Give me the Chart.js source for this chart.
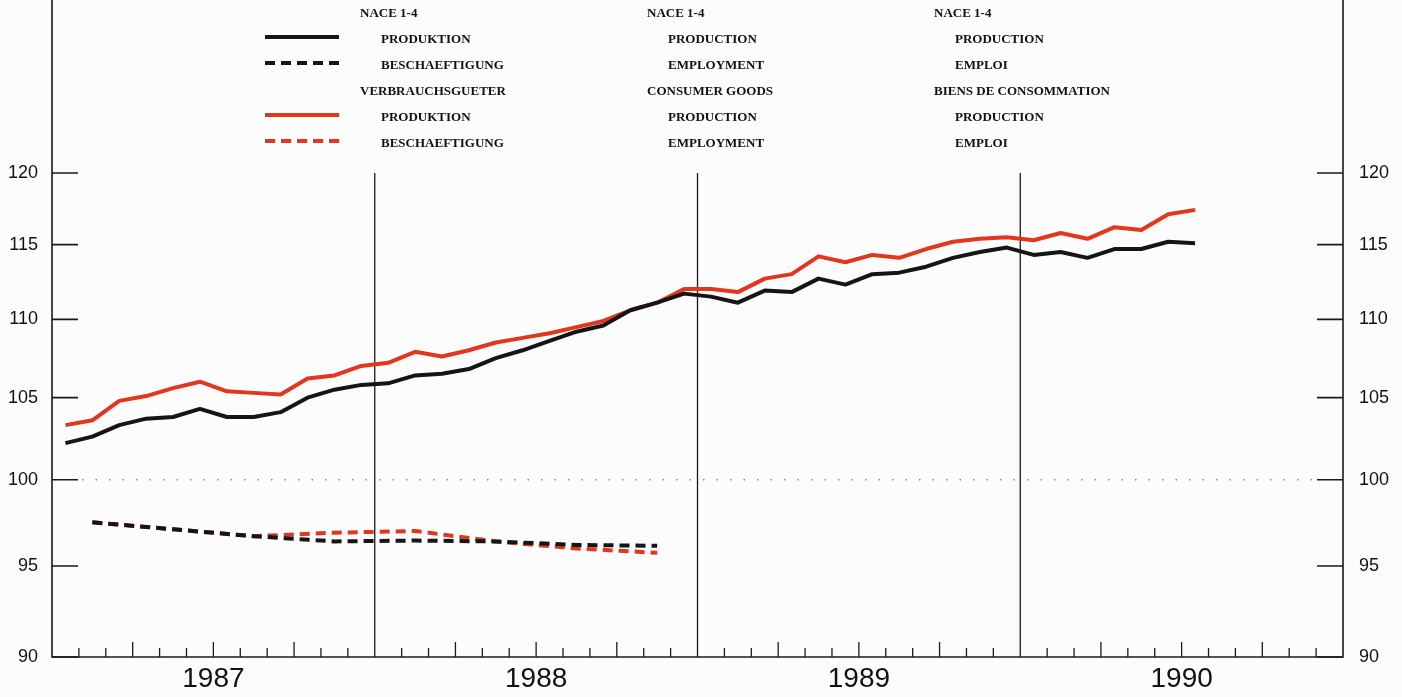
<!DOCTYPE html>
<html>
<head>
<meta charset="utf-8">
<script src="https://cdn.jsdelivr.net/npm/chart.js@4.4.0/dist/chart.umd.min.js"></script>
<style>
  html, body { margin: 0; padding: 0; background: #fcfcfc; }
  canvas { display: block; }
</style>
</head>
<body>
<canvas id="chart" width="1402" height="697"></canvas>
<script>
// years on the x axis, one block of 12 months each
const years = ['1987', '1988', '1989', '1990'];
const yTicks = [90, 95, 100, 105, 110, 115, 120];

// monthly index values, Jan 1987 - Jul 1990
const prodNace = [102.2, 102.6, 103.3, 103.7, 103.8, 104.3, 103.8, 103.8, 104.1, 105.0, 105.5, 105.8,
                  105.9, 106.4, 106.5, 106.8, 107.5, 108.0, 108.6, 109.2, 109.6, 110.6, 111.1, 111.7,
                  111.5, 111.1, 111.9, 111.8, 112.7, 112.3, 113.0, 113.1, 113.5, 114.1, 114.5, 114.8,
                  114.3, 114.5, 114.1, 114.7, 114.7, 115.2, 115.1];
const prodCons = [103.3, 103.6, 104.8, 105.1, 105.6, 106.0, 105.4, 105.3, 105.2, 106.2, 106.4, 107.0,
                  107.2, 107.9, 107.6, 108.0, 108.5, 108.8, 109.1, 109.5, 109.9, 110.6, 111.1, 112.0,
                  112.0, 111.8, 112.7, 113.0, 114.2, 113.8, 114.3, 114.1, 114.7, 115.2, 115.4, 115.5,
                  115.3, 115.8, 115.4, 116.2, 116.0, 117.1, 117.4];
// quarterly employment, Q1 1987 - Q4 1988
const emplNace = [97.5, 97.1, 96.7, 96.4, 96.45, 96.4, 96.2, 96.15];
const emplCons = [97.5, 97.1, 96.7, 96.9, 97.0, 96.4, 96.0, 95.75];

// legend text, german / english / french
const legendDe = ['NACE 1-4', 'PRODUKTION', 'BESCHAEFTIGUNG', 'VERBRAUCHSGUETER', 'PRODUKTION', 'BESCHAEFTIGUNG'];
const legendEn = ['NACE 1-4', 'PRODUCTION', 'EMPLOYMENT', 'CONSUMER GOODS', 'PRODUCTION', 'EMPLOYMENT'];
const legendFr = ['NACE 1-4', 'PRODUCTION', 'EMPLOI', 'BIENS DE CONSOMMATION', 'PRODUCTION', 'EMPLOI'];

const BLACK = '#151515';
const RED = '#e2361f';

const monthly = arr => arr.map((v, i) => ({ x: i + 0.5, y: v }));
const quarterly = arr => arr.map((v, i) => ({ x: i * 3 + 1.5, y: v }));

const lineStyle = { borderWidth: 4, pointRadius: 0, tension: 0, borderJoinStyle: 'round', fill: false };

const frame = {
  id: 'frame',
  beforeDatasetsDraw(chart) {
    const { ctx, chartArea: a, scales: { x, y } } = chart;
    ctx.save();
    ctx.strokeStyle = '#1a1a1a';

    // dotted 100 line
    const p100 = y.getPixelForValue(100);
    ctx.setLineDash([1.5, 12]);
    ctx.lineWidth = 1.5;
    ctx.strokeStyle = '#8a8a8a';
    ctx.beginPath();
    ctx.moveTo(a.left + 30, p100);
    ctx.lineTo(a.right - 30, p100);
    ctx.stroke();
    ctx.setLineDash([]);
    ctx.strokeStyle = '#1a1a1a';

    // axis frame
    ctx.lineWidth = 1.6;
    ctx.beginPath();
    ctx.moveTo(a.left, a.top);
    ctx.lineTo(a.left, a.bottom);
    ctx.lineTo(a.right, a.bottom);
    ctx.lineTo(a.right, a.top);
    ctx.stroke();

    // y ticks, inside on both sides
    yTicks.forEach(v => {
      const py = y.getPixelForValue(v);
      ctx.beginPath();
      ctx.moveTo(a.left, py); ctx.lineTo(a.left + 26, py);
      ctx.moveTo(a.right, py); ctx.lineTo(a.right - 26, py);
      ctx.stroke();
    });

    // month ticks, quarter ticks longer, year separators up to 120
    const top = y.getPixelForValue(120);
    ctx.lineWidth = 1.3;
    for (let m = 1; m < years.length * 12; m++) {
      const px = x.getPixelForValue(m);
      ctx.beginPath();
      if (m % 12 === 0) ctx.moveTo(px, top);
      else ctx.moveTo(px, a.bottom - (m % 3 === 0 ? 15 : 9));
      ctx.lineTo(px, a.bottom);
      ctx.stroke();
    }
    ctx.restore();
  },
  afterDraw(chart) {
    const { ctx } = chart;
    const ds = chart.data.datasets;
    const rows = [14, 40, 66, 92, 118, 144];
    const cols = [360, 647, 934];
    const samples = { 1: ds[0], 2: ds[1], 4: ds[2], 5: ds[3] };
    ctx.save();
    ctx.font = 'bold 13px "Liberation Serif", serif';
    ctx.fillStyle = '#111';
    ctx.textBaseline = 'middle';
    [legendDe, legendEn, legendFr].forEach((texts, c) => {
      texts.forEach((t, r) => {
        const indent = (r === 0 || r === 3) ? 0 : 21;
        ctx.fillText(t, cols[c] + indent, rows[r]);
      });
    });
    Object.keys(samples).forEach(r => {
      const d = samples[r];
      ctx.strokeStyle = d.borderColor;
      ctx.lineWidth = 4;
      ctx.setLineDash(d.borderDash || []);
      ctx.beginPath();
      ctx.moveTo(265, rows[r] - 3);
      ctx.lineTo(339, rows[r] - 3);
      ctx.stroke();
    });
    ctx.restore();
  }
};

const yAxis = (position, width, pad) => ({
  type: 'logarithmic',
  position,
  min: 90,
  max: 133,
  afterBuildTicks: s => { s.ticks = yTicks.map(v => ({ value: v })); },
  afterFit: s => { s.width = width; s.paddingTop = 0; s.paddingBottom = 0; },
  grid: { display: false, drawTicks: false },
  border: { display: false },
  ticks: {
    autoSkip: false,
    padding: pad,
    color: '#111',
    font: { family: '"Liberation Sans", Arial, sans-serif', size: 18 },
    callback: v => String(v)
  }
});

new Chart(document.getElementById('chart'), {
  type: 'line',
  data: {
    datasets: [
      { label: 'NACE 1-4 Produktion', data: monthly(prodNace), borderColor: BLACK, ...lineStyle },
      { label: 'NACE 1-4 Beschaeftigung', data: quarterly(emplNace), borderColor: BLACK, borderDash: [10, 6], ...lineStyle },
      { label: 'Verbrauchsgueter Produktion', data: monthly(prodCons), borderColor: RED, ...lineStyle },
      { label: 'Verbrauchsgueter Beschaeftigung', data: quarterly(emplCons), borderColor: RED, borderDash: [10, 6], ...lineStyle }
    ]
  },
  options: {
    responsive: false,
    animation: false,
    devicePixelRatio: 1,
    layout: { padding: 0 },
    plugins: { legend: { display: false }, tooltip: { enabled: false } },
    scales: {
      x: {
        type: 'linear',
        min: 0,
        max: years.length * 12,
        afterBuildTicks: s => { s.ticks = years.map((_, i) => ({ value: i * 12 + 6 })); },
        afterFit: s => { s.height = 40; s.paddingLeft = 0; s.paddingRight = 0; },
        grid: { display: false, drawTicks: false },
        border: { display: false },
        ticks: {
          autoSkip: false,
          maxRotation: 0,
          padding: 5,
          color: '#111',
          font: { family: '"Liberation Sans Narrow", "Liberation Sans", sans-serif', size: 28 },
          callback: v => years[Math.round((v - 6) / 12)]
        }
      },
      y: yAxis('left', 52, 14),
      y2: yAxis('right', 59, 16)
    }
  },
  plugins: [frame]
});
</script>
</body>
</html>
